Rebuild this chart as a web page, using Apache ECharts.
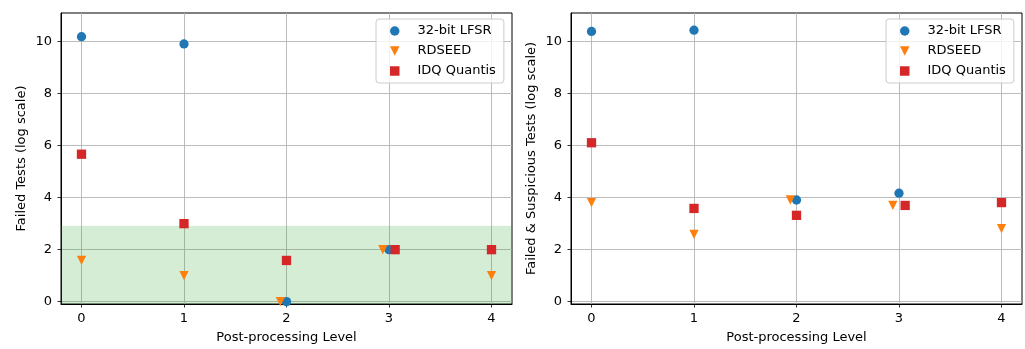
<!DOCTYPE html>
<html>
<head>
<meta charset="utf-8">
<script src="https://cdn.jsdelivr.net/npm/echarts@6/dist/echarts.min.js"></script>
<style>
html,body{margin:0;padding:0;background:#fff;}
#c{width:1025px;height:349px;}
</style>
</head>
<body>
<div id="c"></div>
<script>
// ---- data (values in log2 scale, x = post-processing level, small dodge where markers overlap) ----
const seriesNames = ['32-bit LFSR', 'RDSEED', 'IDQ Quantis'];
const xTicks = [0, 1, 2, 3, 4];
const yTicks = [0, 2, 4, 6, 8, 10];

// Left panel: Failed Tests
const leftLFSR    = [[0, 10.19], [1, 9.91], [2, 0], [3, 2]];
const leftRDSEED  = [[0, 1.585], [1, 1], [1.94, 0], [2.94, 2], [4, 1]];
const leftQuantis = [[0, 5.67], [1, 3], [2, 1.585], [3.06, 2], [4, 2]];
const leftBand    = [-0.09, 2.92];

// Right panel: Failed & Suspicious Tests
const rightLFSR    = [[0, 10.39], [1, 10.44], [2, 3.91], [3, 4.17]];
const rightRDSEED  = [[0, 3.81], [1, 2.585], [1.94, 3.91], [2.94, 3.70], [4, 2.81]];
const rightQuantis = [[0, 6.11], [1, 3.585], [2, 3.32], [3.06, 3.70], [4, 3.81]];

const yTitles = ['Failed Tests (log scale)', 'Failed & Suspicious Tests (log scale)'];
const xTitle = 'Post-processing Level';

// ---- styling ----
const colors = ['#1f77b4', '#ff7f0e', '#d62728'];
const symbols = ['circle', 'triangle', 'rect'];
const legendIcons = ['circle', 'path://M0,0L10,0L5,10Z', 'rect'];
const rotates = [0, 180, 0];
const FONT = 'DejaVu Sans';

function xAxis(gi) {
  return {
    type: 'value', gridIndex: gi, min: -0.2, max: 4.2,
    name: xTitle, nameLocation: 'middle', nameGap: 27,
    nameTextStyle: {fontFamily: FONT, fontSize: 13, color: '#000'},
    axisLine: {show: true, onZero: false, lineStyle: {color: '#000', width: 1}},
    axisTick: {show: true, length: 3.5, customValues: xTicks, lineStyle: {color: '#000', width: 0.8}},
    axisLabel: {customValues: xTicks, margin: 8, fontFamily: FONT, fontSize: 13, color: '#000'},
    splitLine: {show: true, lineStyle: {color: '#b4b4b4', width: 0.9}}
  };
}
function yAxis(gi) {
  return {
    type: 'value', gridIndex: gi, min: -0.09, max: 11.1,
    name: yTitles[gi], nameLocation: 'middle', nameGap: 33, nameRotate: 90,
    nameTextStyle: {fontFamily: FONT, fontSize: 13, color: '#000'},
    axisLine: {show: true, onZero: false, lineStyle: {color: '#000', width: 1}},
    axisTick: {show: true, length: 3.5, customValues: yTicks, lineStyle: {color: '#000', width: 0.8}},
    axisLabel: {customValues: yTicks, margin: 9, fontFamily: FONT, fontSize: 13, color: '#000'},
    splitLine: {show: true, lineStyle: {color: '#b4b4b4', width: 0.9}}
  };
}
function scatter(name, idx, gi, data, extra) {
  return Object.assign({
    type: 'scatter', name: name, xAxisIndex: gi, yAxisIndex: gi, data: data,
    symbol: symbols[idx], symbolRotate: rotates[idx], symbolSize: 9.3,
    itemStyle: {color: colors[idx], opacity: 1},
    emphasis: {disabled: true}, silent: true
  }, extra || {});
}
function legend(left) {
  return {
    left: left, top: 19, orient: 'vertical', selectedMode: false,
    data: seriesNames.map((n, i) => ({name: n, icon: legendIcons[i], itemStyle: {color: colors[i]}})),
    itemWidth: 9.5, itemHeight: 9.5, itemGap: 6, symbolRotate: 0,
    padding: [5, 8, 5, 14],
    backgroundColor: 'rgba(255,255,255,0.8)', borderColor: '#cccccc', borderWidth: 1, borderRadius: 3,
    textStyle: {fontFamily: FONT, fontSize: 13, color: '#000', lineHeight: 14, padding: [0, 0, 0, 13]}
  };
}

const chart = echarts.init(document.getElementById('c'), null, {renderer: 'canvas'});
chart.setOption({
  animation: false,
  backgroundColor: '#fff',
  grid: [
    {left: 61, top: 13, width: 451, height: 292, show: true, borderColor: '#000', borderWidth: 1, backgroundColor: 'transparent'},
    {left: 571, top: 13, width: 451, height: 292, show: true, borderColor: '#000', borderWidth: 1, backgroundColor: 'transparent'}
  ],
  xAxis: [xAxis(0), xAxis(1)],
  yAxis: [yAxis(0), yAxis(1)],
  legend: [legend(376), legend(886)],
  series: [
    scatter(seriesNames[0], 0, 0, leftLFSR, {
      markArea: {silent: true, itemStyle: {color: 'rgba(44,160,44,0.2)'},
        data: [[{yAxis: leftBand[0]}, {yAxis: leftBand[1]}]]}
    }),
    scatter(seriesNames[1], 1, 0, leftRDSEED),
    scatter(seriesNames[2], 2, 0, leftQuantis),
    scatter(seriesNames[0], 0, 1, rightLFSR),
    scatter(seriesNames[1], 1, 1, rightRDSEED),
    scatter(seriesNames[2], 2, 1, rightQuantis)
  ]
});
</script>
</body>
</html>
